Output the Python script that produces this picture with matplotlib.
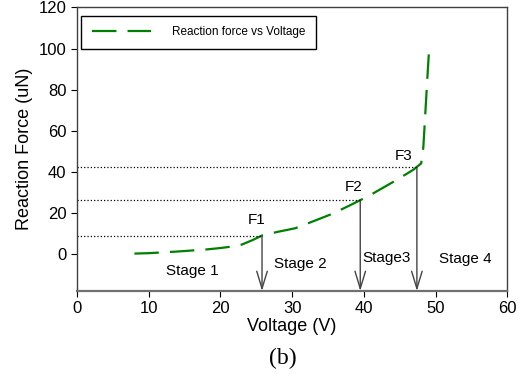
import numpy as np
import matplotlib.pyplot as plt
from matplotlib.patches import FancyArrowPatch

plt.rcParams['font.family'] = ['Liberation Sans', 'DejaVu Sans']

# curve
voltage = [8, 10, 12, 14, 16, 18, 20, 22, 23, 24.5, 25.8, 28, 30.4, 33,
           35.7, 38, 39.5, 41.3, 43.0, 44.6, 46.9, 48.0, 48.3, 48.6, 48.9, 49.1]
force = [0.2, 0.4, 0.8, 1.2, 1.7, 2.2, 2.9, 3.8, 4.6, 6.8, 9.0, 10.8, 12.5, 16.0,
         19.7, 23.6, 26.2, 29.5, 32.9, 36.1, 41.0, 44.1, 52.0, 70.0, 88.0, 99.5]

# critical points F1..F3
f_names = ["F1", "F2", "F3"]
f_volt = [25.8, 39.5, 47.4]
f_force = [8.6, 26.2, 42.4]
f_label_pos = [(25.1, 16.4), (38.6, 32.7), (45.6, 47.8)]

stage_names = ["Stage 1", "Stage 2", "Stage3", "Stage 4"]
stage_pos = [(16.1, -8.3), (31.1, -5.0), (43.2, -2.0), (54.1, -2.4)]

fig = plt.figure(figsize=(5.24, 3.74), dpi=100)
ax = fig.add_axes([0.147, 0.222, 0.821, 0.758])

ax.plot(voltage, force, color="#008000", lw=1.6, linestyle=(0, (11, 5)),
        label="Reaction force vs Voltage")

ymin = -18
for name, xv, yv, (tx, ty) in zip(f_names, f_volt, f_force, f_label_pos):
    ax.hlines(yv, 0, xv, colors="black", linestyles=":", lw=0.9)
    arr = FancyArrowPatch((xv, yv), (xv, ymin), arrowstyle="->,head_length=1.25,head_width=0.38",
                          mutation_scale=10, color="#444444", lw=1.0, shrinkA=0, shrinkB=0)
    ax.add_patch(arr)
    ax.text(tx, ty, name, fontsize=11, ha="center", va="center")

for name, (sx, sy) in zip(stage_names, stage_pos):
    ax.text(sx, sy, name, fontsize=11, ha="center", va="center")

ax.set_xlim(0, 60)
ax.set_ylim(ymin, 120)
ax.set_xticks(np.arange(0, 61, 10))
ax.set_yticks(np.arange(0, 121, 20))
ax.tick_params(direction="out", length=4, labelsize=12, top=False, right=False)
for s in ax.spines.values():
    s.set_color("#404040")
    s.set_linewidth(1.0)
ax.spines["bottom"].set_color("#707070")
ax.spines["bottom"].set_linewidth(1.6)

ax.set_xlabel("Voltage (V)", fontsize=13, labelpad=1)
ax.set_ylabel("Reaction Force (uN)", fontsize=13, labelpad=4)

leg = ax.legend(loc="upper left", bbox_to_anchor=(81 / 524, 1 - 15.7 / 374),
                bbox_transform=fig.transFigure, borderaxespad=0, fontsize=8.5,
                handlelength=5.0, handletextpad=1.8, fancybox=False, framealpha=1,
                borderpad=0.9)
leg.get_frame().set_edgecolor("black")
leg.get_frame().set_linewidth(1.0)

fig.text(282.7 / 524, 1 - 358 / 374, "(b)", fontsize=17, ha="center", va="center",
         family=["Liberation Serif", "DejaVu Serif"])

fig.savefig("out.png", dpi=100)
